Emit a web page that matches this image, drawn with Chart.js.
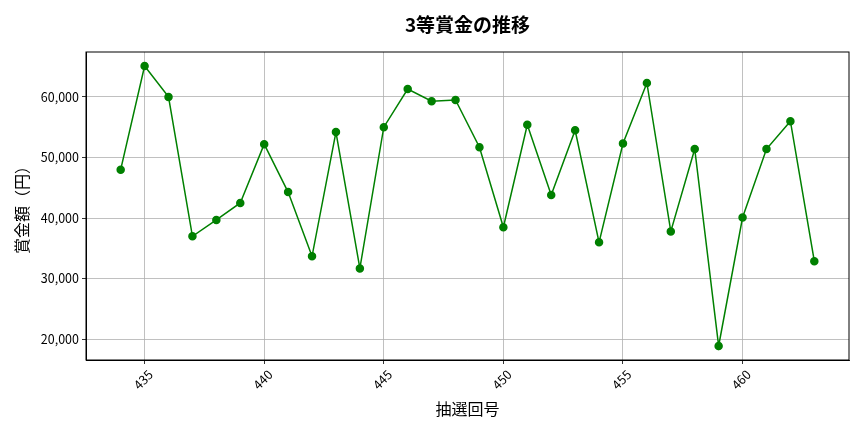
<!DOCTYPE html>
<html lang="ja">
<head>
<meta charset="utf-8">
<script src="https://cdn.jsdelivr.net/npm/chart.js@4.4.0/dist/chart.umd.min.js"></script>
<style>
  html, body { margin: 0; padding: 0; background: #fff; }
  #wrap { width: 864px; height: 432px; }
</style>
</head>
<body>
<div id="wrap"><canvas id="grafico" width="864" height="432"></canvas></div>
<script>
// 抽選回ごとの3等賞金 (円)
const kaigo = [434, 435, 436, 437, 438, 439, 440, 441, 442, 443,
               444, 445, 446, 447, 448, 449, 450, 451, 452, 453,
               454, 455, 456, 457, 458, 459, 460, 461, 462, 463];
const shokin = [48000, 65100, 60000, 37000, 39700, 42500, 52200, 44300, 33700, 54200,
                31700, 55000, 61300, 59300, 59500, 51700, 38500, 55400, 43800, 54500,
                36000, 52300, 62300, 37800, 51400, 18900, 40100, 51400, 56000, 32900];
const xTicks = [435, 440, 445, 450, 455, 460];
const yTicks = [20000, 30000, 40000, 50000, 60000];

const fuente = "'Noto Sans CJK JP', 'Noto Sans', sans-serif";

// 上と右の枠線、タイトル (軸の中央)
const marco = {
    id: 'marco',
    afterDraw(chart) {
        const ctx = chart.ctx;
        const a = chart.chartArea;
        ctx.save();
        ctx.strokeStyle = '#000';
        ctx.lineWidth = 1;
        ctx.strokeRect(a.left, a.top, a.right - a.left, a.bottom - a.top);
        ctx.fillStyle = '#000';
        ctx.font = 'bold 19px ' + fuente;
        ctx.textAlign = 'center';
        ctx.textBaseline = 'middle';
        ctx.fillText('3等賞金の推移', (a.left + a.right) / 2, 25);
        ctx.restore();
    }
};

const puntos = kaigo.map((k, i) => ({ x: k, y: shokin[i] }));
const xMin = Math.min(...kaigo), xMax = Math.max(...kaigo);
const yMin = Math.min(...shokin), yMax = Math.max(...shokin);
const mx = (xMax - xMin) * 0.05, my = (yMax - yMin) * 0.05;

new Chart(document.getElementById('grafico').getContext('2d'), {
    type: 'line',
    data: {
        datasets: [{
            label: '3等',
            data: puntos,
            borderColor: '#008000',
            backgroundColor: '#008000',
            pointBackgroundColor: '#008000',
            pointBorderColor: '#008000',
            pointRadius: 3.5,
            borderWidth: 1.5,
            tension: 0,
            fill: false
        }]
    },
    options: {
        responsive: false,
        animation: false,
        layout: { padding: { top: 52, right: 15, bottom: 0, left: 0 } },
        plugins: {
            legend: { display: false },
            title: { display: false },
            tooltip: { enabled: false }
        },
        scales: {
            x: {
                type: 'linear',
                min: xMin - mx,
                max: xMax + mx,
                afterBuildTicks: (s) => { s.ticks = xTicks.map(v => ({ value: v })); },
                afterFit: (s) => { s.height = 72; },
                grid: { color: '#b0b0b0', lineWidth: 0.8, tickColor: '#000', tickLength: 4 },
                border: { color: '#000', width: 1 },
                ticks: {
                    color: '#000',
                    font: { family: fuente, size: 12.5 },
                    minRotation: 45,
                    maxRotation: 45,
                    padding: 3,
                    labelOffset: 6,
                    callback: (v) => String(v)
                },
                title: {
                    display: true,
                    text: '抽選回号',
                    color: '#000',
                    font: { family: fuente, size: 16 },
                    padding: { top: 4, bottom: 13 }
                }
            },
            y: {
                min: yMin - my,
                max: yMax + my,
                afterBuildTicks: (s) => { s.ticks = yTicks.map(v => ({ value: v })); },
                afterFit: (s) => { s.width = 86; },
                grid: { color: '#b0b0b0', lineWidth: 0.8, tickColor: '#000', tickLength: 4 },
                border: { color: '#000', width: 1 },
                ticks: {
                    color: '#000',
                    font: { family: fuente, size: 12.5 },
                    padding: 3,
                    callback: (v) => v.toLocaleString('en-US')
                },
                title: {
                    display: true,
                    text: '賞金額（円）',
                    color: '#000',
                    font: { family: fuente, size: 16 },
                    padding: { top: 12, bottom: 0 }
                }
            }
        }
    },
    plugins: [marco]
});
</script>
</body>
</html>
